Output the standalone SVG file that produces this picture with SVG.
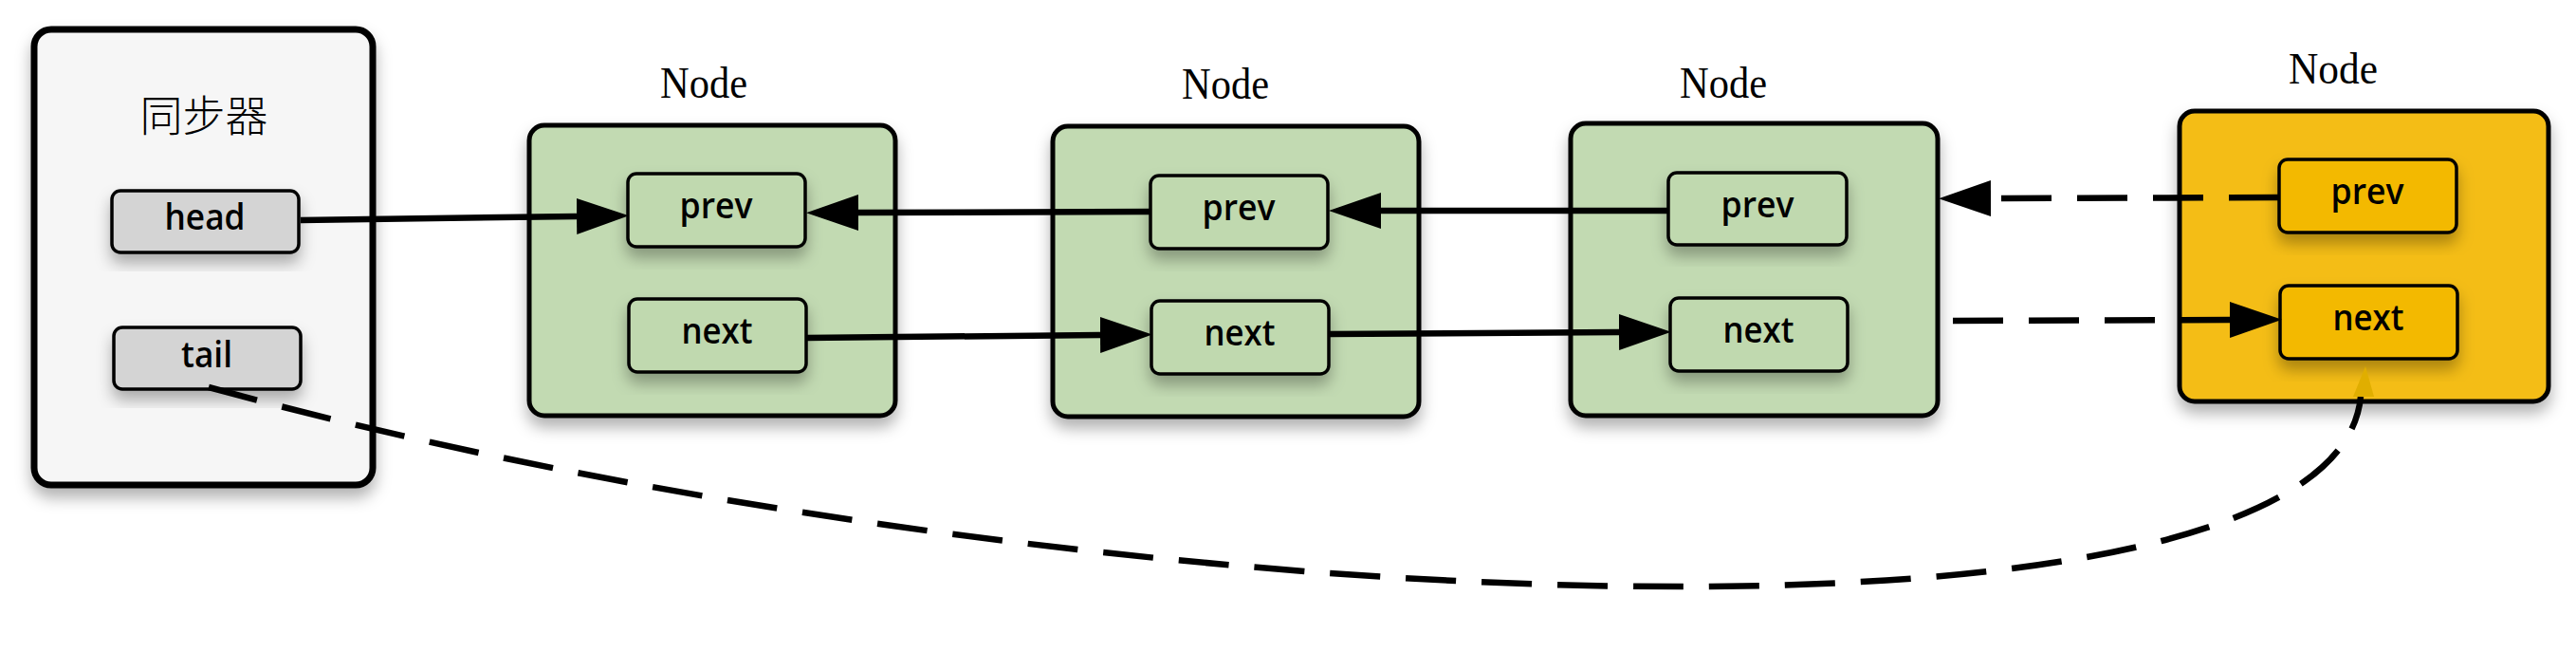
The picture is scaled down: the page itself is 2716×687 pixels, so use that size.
<svg xmlns="http://www.w3.org/2000/svg" width="2716" height="687" viewBox="0 0 2716 687">
<style>
.lbl{font-family:"Liberation Serif","DejaVu Serif",serif;font-size:47px;fill:#000;text-anchor:middle}
.cjk{font-family:"Noto Sans CJK SC",sans-serif;font-size:45px;font-weight:300;fill:#000;text-anchor:middle}
.fld{font-family:"Open Sans","Noto Sans",sans-serif;font-size:38px;font-weight:600;fill:#000;text-anchor:middle}
.outer{stroke:#000;stroke-width:5}
.inner{stroke:#000;stroke-width:3.5}
.green{fill:#c2dab2}
.ginner{fill:#c0d9af}
.yellow{fill:#f4bd14}
.yinner{fill:#f3b905}
.gray{fill:#d4d4d4}
.conn{fill:none;stroke:#000;stroke-width:6.5}
.dash{stroke-dasharray:53 27}
</style>
<defs>
<filter id="sh" x="-20%" y="-20%" width="140%" height="150%">
<feDropShadow dx="0" dy="10" stdDeviation="8" flood-color="#000" flood-opacity="0.3"/>
</filter>
<marker id="ah" markerUnits="userSpaceOnUse" markerWidth="56" markerHeight="40" refX="0" refY="20" orient="auto" viewBox="0 0 56 40">
<path d="M0,1 L55,20 L0,39 Z" fill="#000"/>
</marker>
</defs>

<g id="sync">
<rect x="36" y="31" width="357" height="480" rx="18" fill="#f6f6f6" stroke="#000" stroke-width="7" filter="url(#sh)"/>
<text class="cjk" x="215" y="139">同步器</text>
<g id="head">
<rect class="gray inner" x="118" y="201" width="197" height="65" rx="9" filter="url(#sh)"/>
<text class="fld" x="216" y="242" textLength="85" lengthAdjust="spacingAndGlyphs">head</text>
</g>
<g id="tail">
<rect class="gray inner" x="120" y="345" width="197" height="65" rx="9" filter="url(#sh)"/>
<text class="fld" x="218" y="387" textLength="54" lengthAdjust="spacingAndGlyphs">tail</text>
</g>
</g>

<g id="node1">
<text class="lbl" x="742" y="103" textLength="92" lengthAdjust="spacingAndGlyphs">Node</text>
<rect class="green outer" x="558" y="132" width="386" height="306" rx="16" filter="url(#sh)"/>
<g id="node1-prev">
<rect class="ginner inner" x="662" y="183" width="187" height="77" rx="9" filter="url(#sh)"/>
<text class="fld" x="755" y="230" textLength="77" lengthAdjust="spacingAndGlyphs">prev</text>
</g>
<g id="node1-next">
<rect class="ginner inner" x="663" y="315" width="187" height="77" rx="9" filter="url(#sh)"/>
<text class="fld" x="756" y="362" textLength="75" lengthAdjust="spacingAndGlyphs">next</text>
</g>
</g>

<g id="node2">
<text class="lbl" x="1292" y="104" textLength="92" lengthAdjust="spacingAndGlyphs">Node</text>
<rect class="green outer" x="1110" y="133" width="386" height="306" rx="16" filter="url(#sh)"/>
<g id="node2-prev">
<rect class="ginner inner" x="1213" y="185" width="187" height="77" rx="9" filter="url(#sh)"/>
<text class="fld" x="1306" y="232" textLength="77" lengthAdjust="spacingAndGlyphs">prev</text>
</g>
<g id="node2-next">
<rect class="ginner inner" x="1214" y="317" width="187" height="77" rx="9" filter="url(#sh)"/>
<text class="fld" x="1307" y="364" textLength="75" lengthAdjust="spacingAndGlyphs">next</text>
</g>
</g>

<g id="node3">
<text class="lbl" x="1817" y="103" textLength="92" lengthAdjust="spacingAndGlyphs">Node</text>
<rect class="green outer" x="1656" y="130" width="387" height="308" rx="16" filter="url(#sh)"/>
<g id="node3-prev">
<rect class="ginner inner" x="1759" y="182" width="188" height="76" rx="9" filter="url(#sh)"/>
<text class="fld" x="1853" y="229" textLength="77" lengthAdjust="spacingAndGlyphs">prev</text>
</g>
<g id="node3-next">
<rect class="ginner inner" x="1761" y="314" width="187" height="77" rx="9" filter="url(#sh)"/>
<text class="fld" x="1854" y="361" textLength="75" lengthAdjust="spacingAndGlyphs">next</text>
</g>
</g>

<g id="node4">
<text class="lbl" x="2460" y="88" textLength="94" lengthAdjust="spacingAndGlyphs">Node</text>
<rect class="yellow outer" x="2298" y="117" width="389" height="306" rx="16" filter="url(#sh)"/>
<g id="node4-prev">
<rect class="yinner inner" x="2403" y="168" width="187" height="77" rx="9" filter="url(#sh)"/>
<text class="fld" x="2496" y="215" textLength="77" lengthAdjust="spacingAndGlyphs">prev</text>
</g>
<g id="node4-next">
<rect class="yinner inner" x="2404" y="301" width="187" height="77" rx="9" filter="url(#sh)"/>
<text class="fld" x="2497" y="348" textLength="75" lengthAdjust="spacingAndGlyphs">next</text>
</g>
</g>

<g id="connectors">
<path class="conn" d="M317,232 L608,228" marker-end="url(#ah)"/>
<path class="conn" d="M1213,223 L905,224" marker-end="url(#ah)"/>
<path class="conn" d="M1759,222 L1456,222" marker-end="url(#ah)"/>
<path class="conn" d="M850,356 L1160,353" marker-end="url(#ah)"/>
<path class="conn" d="M1401,352 L1707,350" marker-end="url(#ah)"/>
<path class="conn dash" d="M2403,208 L2099,209" marker-end="url(#ah)"/>
<path class="conn dash" d="M2059,338 L2351,337" marker-end="url(#ah)"/>
<path class="conn dash" d="M220,408 C1100,650 2460,720 2489,418"/>
<polygon points="2494,386 2481,418 2503,418" fill="#e0ae00"/>
</g>
</svg>
